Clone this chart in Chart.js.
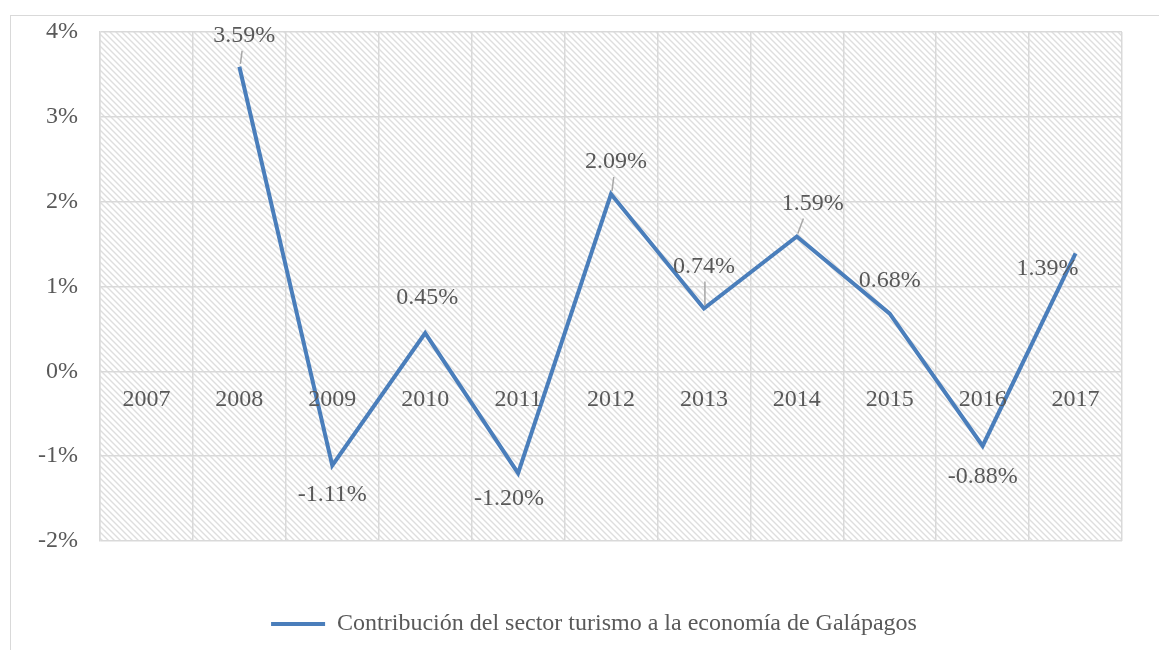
<!DOCTYPE html>
<html>
<head>
<meta charset="utf-8">
<script src="https://cdn.jsdelivr.net/npm/chart.js@4.4.1/dist/chart.umd.min.js"></script>
<style>
  html, body { margin: 0; padding: 0; background: #fff; }
  #wrap { width: 1159px; height: 650px; }
</style>
</head>
<body>
<div id="wrap"><canvas id="tourism-chart" width="1159" height="650"></canvas></div>
<script>
const years = ["2007", "2008", "2009", "2010", "2011", "2012", "2013", "2014", "2015", "2016", "2017"];
const contribution = [null, 3.59, -1.11, 0.45, -1.20, 2.09, 0.74, 1.59, 0.68, -0.88, 1.39];
const seriesName = "Contribución del sector turismo a la economía de Galápagos";
const yTicks = [-2, -1, 0, 1, 2, 3, 4];

// where each value label sits relative to its point [dx, dy], and whether it gets a leader line
const labelPos = [null, [5, -31, true], [0, 29], [2, -35], [-9, 26], [5, -32, true], [0, -42, true], [16, -33, true], [0, -33], [0, 31], [-28, 15]];

const serif = "'Liberation Serif', 'Times New Roman', serif";
const textColor = "#595959";
const fontSize = 24;

// diagonal hatch used by Excel's plot area
function hatch() {
  const c = document.createElement("canvas");
  c.width = 6; c.height = 6;
  const g = c.getContext("2d");
  g.fillStyle = "#fff";
  g.fillRect(0, 0, 6, 6);
  g.strokeStyle = "#dedede";
  g.lineWidth = 1.4;
  g.beginPath();
  g.moveTo(-1, -1); g.lineTo(7, 7);
  g.moveTo(-4, 2); g.lineTo(2, 8);
  g.moveTo(2, -4); g.lineTo(8, 2);
  g.stroke();
  return g.createPattern(c, "repeat");
}

const backdrop = {
  id: "backdrop",
  afterLayout(chart) {
    // the legend in the original is centred on the wider outer frame
    chart.legend.left += 56;
  },
  beforeDraw(chart) {
    const ctx = chart.ctx, a = chart.chartArea;
    ctx.save();
    ctx.fillStyle = "#fff";
    ctx.fillRect(0, 0, chart.width, chart.height);
    ctx.strokeStyle = "#d9d9d9";
    ctx.lineWidth = 1;
    ctx.strokeRect(10.5, 15.5, chart.width + 20, chart.height + 20);
    ctx.fillStyle = hatch();
    ctx.fillRect(a.left, a.top, a.right - a.left, a.bottom - a.top);
    ctx.restore();
  }
};

// category labels sit just under the zero line, and value labels next to each point
const labelsPlugin = {
  id: "labelsPlugin",
  afterDatasetsDraw(chart) {
    const ctx = chart.ctx;
    const x = chart.scales.x, y = chart.scales.y;
    const zero = y.getPixelForValue(0);
    ctx.save();
    ctx.font = fontSize + "px " + serif;
    ctx.fillStyle = textColor;
    ctx.textAlign = "center";
    ctx.textBaseline = "middle";
    years.forEach((yr, i) => {
      ctx.fillText(yr, x.getPixelForValue(i), zero + 28);
    });
    const meta = chart.getDatasetMeta(0);
    meta.data.forEach((pt, i) => {
      const v = contribution[i];
      if (v === null) return;
      const p = labelPos[i];
      const tx = pt.x + p[0], ty = pt.y + p[1];
      if (p[2]) {
        ctx.strokeStyle = "#a6a6a6";
        ctx.lineWidth = 1.5;
        ctx.beginPath();
        ctx.moveTo(pt.x + 1, pt.y - 3);
        ctx.lineTo(pt.x + (tx - pt.x) * 0.35 + 1, ty + 15);
        ctx.stroke();
      }
      ctx.fillStyle = textColor;
      ctx.fillText(v.toFixed(2) + "%", tx, ty);
    });
    ctx.restore();
  }
};

new Chart(document.getElementById("tourism-chart"), {
  type: "line",
  data: {
    labels: years,
    datasets: [{
      label: seriesName,
      data: contribution,
      borderColor: "#4a7ebb",
      backgroundColor: "#4a7ebb",
      borderWidth: 4,
      pointRadius: 0,
      tension: 0,
      spanGaps: false
    }]
  },
  options: {
    responsive: false,
    animation: false,
    layout: { padding: { left: 10, right: 37, top: 32, bottom: 4 } },
    scales: {
      x: {
        offset: true,
        grid: { offset: true, color: "#d9d9d9", lineWidth: 1.5, drawTicks: false },
        border: { display: false },
        ticks: { display: false },
        afterFit(s) { s.height = 61; }
      },
      y: {
        min: -2,
        max: 4,
        afterBuildTicks(s) { s.ticks = yTicks.map(v => ({ value: v })); },
        grid: { color: "#d9d9d9", lineWidth: 1.5, drawTicks: false },
        border: { display: true, color: "#d9d9d9", width: 1.5 },
        ticks: {
          padding: 22,
          color: textColor,
          font: { family: serif, size: fontSize },
          callback: v => v + "%"
        },
        afterFit(s) {
          s.width = 90;
          s.paddingTop = 0;
          s.paddingBottom = 0;
        }
      }
    },
    plugins: {
      legend: {
        position: "bottom",
        labels: {
          usePointStyle: true,
          pointStyle: "line",
          pointStyleWidth: 54,
          color: textColor,
          font: { family: serif, size: fontSize },
          padding: 10
        }
      },
      tooltip: { enabled: false }
    }
  },
  plugins: [backdrop, labelsPlugin]
});
</script>
</body>
</html>
